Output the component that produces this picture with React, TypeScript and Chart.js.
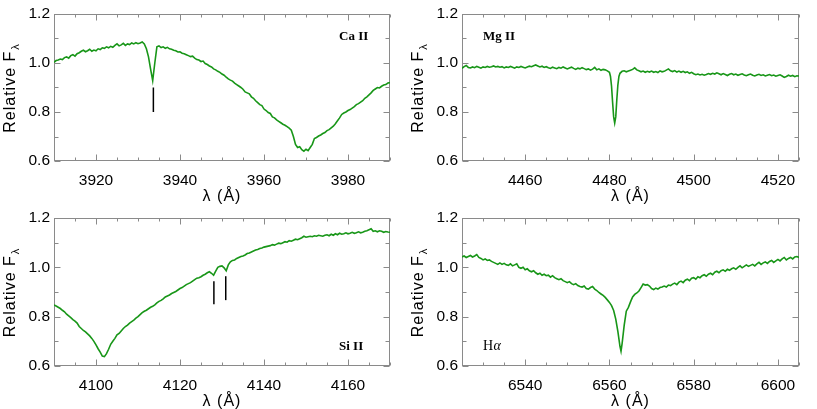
import React, { useEffect, useRef } from "react";
import { Chart, registerables } from "chart.js";
Chart.register(...registerables);

// ---------- Ca II panel ----------
const caWave = [
  3910,3910.5,3911,3911.5,3912,3912.5,3913,3913.5,3914,3914.5,3915,3915.5,3916,3916.5,3917,3917.5,3918,3918.5,3919,3919.5,
  3920,3920.5,3921,3921.5,3922,3922.5,3923,3923.5,3924,3924.5,3925,3925.5,3926,3926.5,3927,3927.5,3928,3928.5,3929,3929.5,
  3930,3930.5,3931,3931.5,3932,3932.5,3933,3933.5,3934,3934.5,3935,3935.5,3936,3936.5,3937,3937.5,3938,3938.5,3939,3939.5,
  3940,3940.5,3941,3941.5,3942,3942.5,3943,3943.5,3944,3944.5,3945,3945.5,3946,3946.5,3947,3947.5,3948,3948.5,3949,3949.5,
  3950,3950.5,3951,3951.5,3952,3952.5,3953,3953.5,3954,3954.5,3955,3955.5,3956,3956.5,3957,3957.5,3958,3958.5,3959,3959.5,
  3960,3960.5,3961,3961.5,3962,3962.5,3963,3963.5,3964,3964.5,3965,3965.5,3966,3966.5,3967,3967.5,3968,3968.5,3969,3969.5,
  3970,3970.5,3971,3971.5,3972,3972.5,3973,3973.5,3974,3974.5,3975,3975.5,3976,3976.5,3977,3977.5,3978,3978.5,3979,3979.5,
  3980,3980.5,3981,3981.5,3982,3982.5,3983,3983.5,3984,3984.5,3985,3985.5,3986,3986.5,3987,3987.5,3988,3988.5,3989,3989.5,
  3990,
];
const caFlux = [
  1.003,1.010,1.012,1.016,1.014,1.022,1.025,1.020,1.030,1.034,1.028,1.038,1.042,1.048,1.052,1.046,1.050,1.056,1.048,1.053,
  1.050,1.058,1.055,1.062,1.060,1.066,1.062,1.068,1.064,1.072,1.078,1.070,1.074,1.080,1.072,1.078,1.075,1.082,1.078,1.083,
  1.079,1.082,1.086,1.078,1.058,1.025,0.975,0.928,1.000,1.066,1.070,1.063,1.066,1.060,1.064,1.058,1.056,1.052,1.050,1.045,
  1.046,1.040,1.038,1.034,1.030,1.026,1.028,1.020,1.014,1.012,1.006,1.008,0.998,0.994,0.988,0.984,0.976,0.972,0.966,0.962,
  0.955,0.950,0.942,0.935,0.930,0.926,0.918,0.912,0.906,0.900,0.893,0.882,0.878,0.874,0.862,0.856,0.846,0.838,0.830,0.826,
  0.812,0.806,0.798,0.794,0.780,0.776,0.768,0.762,0.756,0.750,0.746,0.740,0.734,0.726,0.700,0.668,0.655,0.658,0.646,0.640,
  0.648,0.642,0.655,0.668,0.692,0.696,0.702,0.706,0.712,0.716,0.724,0.728,0.735,0.742,0.752,0.764,0.776,0.790,0.796,0.800,
  0.806,0.810,0.816,0.822,0.830,0.834,0.840,0.846,0.856,0.862,0.870,0.878,0.888,0.894,0.900,0.898,0.905,0.910,0.912,0.918,
  0.920,
];
const caTicks = [3920, 3940, 3960, 3980];
const caMarkWave = [3933.66];
const caMarkLow = [0.80];
const caMarkHigh = [0.90];

// ---------- Mg II panel ----------
const mgWave = [
  4445,4445.5,4446,4446.5,4447,4447.5,4448,4448.5,4449,4449.5,4450,4450.5,4451,4451.5,4452,4452.5,4453,4453.5,4454,4454.5,
  4455,4455.5,4456,4456.5,4457,4457.5,4458,4458.5,4459,4459.5,4460,4460.5,4461,4461.5,4462,4462.5,4463,4463.5,4464,4464.5,
  4465,4465.5,4466,4466.5,4467,4467.5,4468,4468.5,4469,4469.5,4470,4470.5,4471,4471.5,4472,4472.5,4473,4473.5,4474,4474.5,
  4475,4475.5,4476,4476.5,4477,4477.5,4478,4478.5,4479,4479.5,
  4480,
  4480.25,4480.5,4480.75,4481,4481.25,4481.5,4481.75,4482,4482.25,4482.5,
  4483,4483.5,4484,4484.5,4485,4485.5,4486,4486.5,4487,4487.5,4488,4488.5,4489,4489.5,4490,4490.5,4491,4491.5,4492,4492.5,
  4493,4493.5,4494,4494.5,4495,4495.5,4496,4496.5,4497,4497.5,4498,4498.5,4499,4499.5,4500,4500.5,4501,4501.5,4502,4502.5,
  4503,4503.5,4504,4504.5,4505,4505.5,4506,4506.5,4507,4507.5,4508,4508.5,4509,4509.5,4510,4510.5,4511,4511.5,4512,4512.5,
  4513,4513.5,4514,4514.5,4515,4515.5,4516,4516.5,4517,4517.5,4518,4518.5,4519,4519.5,4520,4520.5,4521,4521.5,4522,4522.5,
  4523,4523.5,4524,4524.5,4525,
];
const mgFlux = [
  0.978,0.985,0.990,0.982,0.980,0.984,0.981,0.986,0.983,0.979,0.984,0.982,0.986,0.983,0.985,0.988,0.984,0.986,0.983,0.985,
  0.980,0.984,0.982,0.986,0.983,0.979,0.984,0.982,0.986,0.983,0.980,0.984,0.987,0.985,0.989,0.992,0.988,0.984,0.987,0.982,
  0.985,0.981,0.978,0.983,0.980,0.977,0.982,0.979,0.984,0.980,0.976,0.980,0.983,0.978,0.974,0.979,0.976,0.981,0.977,0.973,
  0.976,0.971,0.975,0.982,0.972,0.976,0.970,0.974,0.972,0.968,
  0.962,
  0.945,0.905,0.840,0.780,0.755,0.780,0.850,0.910,0.945,0.958,
  0.966,0.968,0.964,0.967,0.970,0.974,0.980,0.972,0.968,0.964,0.967,0.962,0.966,0.963,0.967,0.962,0.965,0.961,0.968,0.964,
  0.966,0.971,0.976,0.968,0.965,0.969,0.963,0.967,0.962,0.966,0.961,0.964,0.958,0.962,0.956,0.952,0.955,0.951,0.954,0.950,
  0.953,0.957,0.954,0.958,0.955,0.960,0.956,0.952,0.957,0.953,0.949,0.954,0.957,0.952,0.955,0.950,0.953,0.956,0.951,0.948,
  0.952,0.955,0.950,0.947,0.951,0.954,0.949,0.952,0.947,0.950,0.953,0.948,0.951,0.946,0.949,0.952,0.947,0.941,0.945,0.950,
  0.946,0.949,0.944,0.948,0.947,
];
const mgTicks = [4460, 4480, 4500, 4520];

// ---------- Si II panel ----------
const siWave = [
  4090,4090.5,4091,4091.5,4092,4092.5,4093,4093.5,4094,4094.5,4095,4095.5,4096,4096.5,4097,4097.5,4098,4098.5,4099,4099.5,
  4100,4100.5,4101,4101.5,4102,4102.5,4103,4103.5,4104,4104.5,4105,4105.5,4106,4106.5,4107,4107.5,4108,4108.5,4109,4109.5,
  4110,4110.5,4111,4111.5,4112,4112.5,4113,4113.5,4114,4114.5,4115,4115.5,4116,4116.5,4117,4117.5,4118,4118.5,4119,4119.5,
  4120,4120.5,4121,4121.5,4122,4122.5,4123,4123.5,4124,4124.5,4125,4125.5,4126,4126.5,4127,4127.5,4128,4128.5,4129,4129.5,
  4130,4130.5,4131,4131.5,4132,4132.5,4133,4133.5,4134,4134.5,4135,4135.5,4136,4136.5,4137,4137.5,4138,4138.5,4139,4139.5,
  4140,4140.5,4141,4141.5,4142,4142.5,4143,4143.5,4144,4144.5,4145,4145.5,4146,4146.5,4147,4147.5,4148,4148.5,4149,4149.5,
  4150,4150.5,4151,4151.5,4152,4152.5,4153,4153.5,4154,4154.5,4155,4155.5,4156,4156.5,4157,4157.5,4158,4158.5,4159,4159.5,
  4160,4160.5,4161,4161.5,4162,4162.5,4163,4163.5,4164,4164.5,4165,4165.5,4166,4166.5,4167,4167.5,4168,4168.5,4169,4169.5,
  4170,
];
const siFlux = [
  0.848,0.843,0.838,0.833,0.826,0.820,0.810,0.803,0.796,0.788,0.782,0.774,0.760,0.752,0.744,0.738,0.730,0.722,0.712,0.700,
  0.686,0.670,0.656,0.640,0.638,0.650,0.668,0.688,0.700,0.712,0.726,0.732,0.742,0.752,0.760,0.766,0.774,0.780,0.786,0.794,
  0.800,0.808,0.816,0.822,0.826,0.832,0.838,0.842,0.848,0.856,0.862,0.866,0.872,0.880,0.884,0.888,0.894,0.898,0.902,0.908,
  0.914,0.918,0.924,0.930,0.934,0.938,0.944,0.950,0.956,0.958,0.962,0.968,0.972,0.978,0.982,0.976,0.968,0.985,1.000,1.004,
  1.006,0.998,0.986,1.010,1.022,1.028,1.030,1.036,1.040,1.044,1.046,1.050,1.056,1.058,1.062,1.066,1.070,1.072,1.076,1.078,
  1.082,1.084,1.086,1.088,1.092,1.090,1.094,1.098,1.096,1.100,1.104,1.102,1.108,1.106,1.110,1.114,1.112,1.116,1.120,1.126,
  1.122,1.124,1.126,1.124,1.128,1.126,1.130,1.128,1.126,1.130,1.132,1.128,1.134,1.130,1.136,1.132,1.138,1.134,1.136,1.140,
  1.136,1.138,1.142,1.138,1.140,1.144,1.140,1.142,1.146,1.148,1.152,1.156,1.146,1.148,1.144,1.148,1.146,1.142,1.145,1.143,
  1.142,
];
const siTicks = [4100, 4120, 4140, 4160];
const siMarkWave = [4128.07, 4130.89];
const siMarkLow = [0.85, 0.867];
const siMarkHigh = [0.944, 0.964];

// ---------- H-alpha panel ----------
const haWave = [
  6525,6525.5,6526,6526.5,6527,6527.5,6528,6528.5,6529,6529.5,6530,6530.5,6531,6531.5,6532,6532.5,6533,6533.5,6534,6534.5,
  6535,6535.5,6536,6536.5,6537,6537.5,6538,6538.5,6539,6539.5,6540,6540.5,6541,6541.5,6542,6542.5,6543,6543.5,6544,6544.5,
  6545,6545.5,6546,6546.5,6547,6547.5,6548,6548.5,6549,6549.5,6550,6550.5,6551,6551.5,6552,6552.5,6553,6553.5,6554,6554.5,
  6555,6555.5,6556,6556.5,6557,6557.5,6558,6558.5,6559,6559.5,6560,6560.5,6561,6561.5,6562,6562.5,
  6562.75,
  6563,6563.5,6564,6564.5,6565,6565.5,6566,6566.5,6567,6567.5,6568,6568.5,6569,6569.5,6570,6570.5,6571,6571.5,6572,6572.5,
  6573,6573.5,6574,6574.5,6575,6575.5,6576,6576.5,6577,6577.5,6578,6578.5,6579,6579.5,6580,6580.5,6581,6581.5,6582,6582.5,
  6583,6583.5,6584,6584.5,6585,6585.5,6586,6586.5,6587,6587.5,6588,6588.5,6589,6589.5,6590,6590.5,6591,6591.5,6592,6592.5,
  6593,6593.5,6594,6594.5,6595,6595.5,6596,6596.5,6597,6597.5,6598,6598.5,6599,6599.5,6600,6600.5,6601,6601.5,6602,6602.5,
  6603,6603.5,6604,6604.5,6605,
];
const haFlux = [
  1.042,1.046,1.040,1.044,1.048,1.042,1.046,1.052,1.040,1.036,1.030,1.034,1.028,1.030,1.024,1.020,1.016,1.012,1.018,1.012,
  1.016,1.010,1.008,1.014,1.006,1.010,1.014,1.000,0.996,1.000,0.990,0.994,0.986,0.982,0.986,0.978,0.972,0.976,0.968,0.972,
  0.966,0.968,0.960,0.966,0.958,0.954,0.950,0.954,0.946,0.942,0.938,0.942,0.934,0.930,0.934,0.926,0.922,0.920,0.924,0.914,
  0.912,0.918,0.922,0.912,0.906,0.898,0.892,0.886,0.878,0.868,0.858,0.845,0.825,0.790,0.740,0.680,
  0.660,
  0.690,0.765,0.822,0.838,0.860,0.880,0.890,0.896,0.904,0.918,0.932,0.928,0.930,0.924,0.914,0.910,0.916,0.912,0.918,0.920,
  0.924,0.920,0.928,0.926,0.932,0.936,0.930,0.940,0.944,0.938,0.948,0.952,0.946,0.956,0.958,0.952,0.962,0.958,0.966,0.970,
  0.964,0.972,0.976,0.970,0.980,0.984,0.978,0.986,0.990,0.984,0.992,0.988,0.994,0.998,0.992,1.000,1.006,0.998,1.004,1.010,
  1.004,1.008,1.012,1.006,1.014,1.020,1.012,1.018,1.022,1.016,1.024,1.028,1.020,1.026,1.032,1.026,1.034,1.040,1.030,1.036,
  1.040,1.034,1.042,1.044,1.040,
];
const haTicks = [6540, 6560, 6580, 6600];

// ---------- shared axis values ----------
const yMajorTicks = [0.6, 0.8, 1.0, 1.2];
const yMinorTicks = [0.7, 0.9, 1.1];
const xMinorStep = 5;

const GREEN = "rgb(24,150,24)";
const AXIS = "#8a8a8a";
const SANS = "'Liberation Sans', Arial, Helvetica, sans-serif";
const SERIF = "'Liberation Serif', 'Times New Roman', serif";

type PanelCfg = {
  wave: number[];
  flux: number[];
  xMin: number;
  xMax: number;
  xTicks: number[];
  label: string;
  corner: "tr" | "tl" | "br" | "bl";
  markWave: number[];
  markLow: number[];
  markHigh: number[];
};

const caPanel: PanelCfg = { wave: caWave, flux: caFlux, xMin: 3910, xMax: 3990, xTicks: caTicks, label: "Ca II", corner: "tr", markWave: caMarkWave, markLow: caMarkLow, markHigh: caMarkHigh };
const mgPanel: PanelCfg = { wave: mgWave, flux: mgFlux, xMin: 4445, xMax: 4525, xTicks: mgTicks, label: "Mg II", corner: "tl", markWave: [], markLow: [], markHigh: [] };
const siPanel: PanelCfg = { wave: siWave, flux: siFlux, xMin: 4090, xMax: 4170, xTicks: siTicks, label: "Si II", corner: "br", markWave: siMarkWave, markLow: siMarkLow, markHigh: siMarkHigh };
const haPanel: PanelCfg = { wave: haWave, flux: haFlux, xMin: 6525, xMax: 6605, xTicks: haTicks, label: "Hα", corner: "bl", markWave: [], markLow: [], markHigh: [] };

function makeDecor(cfg: PanelCfg) {
  return {
    id: "decor",
    beforeDatasetsDraw(chart: any) {
      const { ctx, chartArea: a, scales } = chart;
      const xs = scales.x;
      const ys = scales.y;
      ctx.save();
      ctx.strokeStyle = AXIS;
      ctx.lineWidth = 1;
      const L = Math.round(a.left) + 0.5;
      const R = Math.round(a.right) - 0.5;
      const T = Math.round(a.top) + 0.5;
      const B = Math.round(a.bottom) - 0.5;
      ctx.strokeRect(L, T, R - L, B - T);
      ctx.beginPath();
      const yTick = (v: number, len: number) => {
        const p = Math.round(ys.getPixelForValue(v)) + 0.5;
        ctx.moveTo(L, p); ctx.lineTo(L + len, p);
        ctx.moveTo(R, p); ctx.lineTo(R - len, p);
      };
      yMajorTicks.forEach((v) => yTick(v, 6));
      yMinorTicks.forEach((v) => yTick(v, 4));
      for (let v = Math.ceil(cfg.xMin / xMinorStep) * xMinorStep; v <= cfg.xMax; v += xMinorStep) {
        const len = cfg.xTicks.includes(v) ? 6 : 3;
        const p = Math.round(xs.getPixelForValue(v)) + 0.5;
        ctx.moveTo(p, B); ctx.lineTo(p, B - len);
        ctx.moveTo(p, T); ctx.lineTo(p, T + len);
      }
      ctx.stroke();
      ctx.restore();
    },
    afterDraw(chart: any) {
      const { ctx, chartArea: a } = chart;
      ctx.save();
      ctx.fillStyle = "#000";
      // y title
      ctx.save();
      ctx.translate(15, (a.top + a.bottom) / 2);
      ctx.rotate(-Math.PI / 2);
      ctx.textAlign = "left";
      ctx.textBaseline = "alphabetic";
      ctx.font = `16px ${SANS}`;
      (ctx as any).letterSpacing = "1px";
      const main = "Relative F";
      const w1 = ctx.measureText(main).width;
      ctx.font = `11px ${SANS}`;
      const w2 = ctx.measureText("λ").width;
      const x0 = -(w1 + w2 + 2) / 2;
      ctx.font = `16px ${SANS}`;
      ctx.fillText(main, x0, 0);
      ctx.font = `11px ${SANS}`;
      ctx.fillText("λ", x0 + w1 + 1, 4);
      ctx.restore();
      // x title
      ctx.save();
      ctx.font = `16px ${SANS}`;
      (ctx as any).letterSpacing = "1px";
      ctx.textAlign = "center";
      ctx.textBaseline = "middle";
      ctx.fillText("λ (Å)", (a.left + a.right) / 2, a.bottom + 36);
      ctx.restore();
      // panel label
      const lx = cfg.corner.endsWith("r") ? a.right - 51 : a.left + 21;
      const ly = cfg.corner.startsWith("t") ? a.top + 25.5 : a.bottom - 16.5;
      ctx.textAlign = "left";
      ctx.textBaseline = "alphabetic";
      if (cfg.label === "Hα") {
        ctx.font = `14px ${SERIF}`;
        ctx.fillText("H", lx, ly);
        const wH = ctx.measureText("H").width;
        ctx.font = `italic 14px ${SERIF}`;
        ctx.fillText("α", lx + wH + 0.5, ly);
      } else {
        ctx.font = `bold 13px ${SERIF}`;
        ctx.fillText(cfg.label, lx, ly);
      }
      ctx.restore();
    },
  };
}

function Panel({ cfg, left, top, width, height }: { cfg: PanelCfg; left: number; top: number; width: number; height: number }) {
  const ref = useRef<HTMLCanvasElement>(null);
  useEffect(() => {
    if (!ref.current) return;
    const datasets: any[] = [
      {
        data: cfg.wave.map((w, i) => ({ x: w, y: cfg.flux[i] })),
        borderColor: GREEN,
        borderWidth: 1.6,
        pointRadius: 0,
        fill: false,
        tension: 0,
      },
    ];
    cfg.markWave.forEach((w, i) => {
      datasets.push({
        data: [
          { x: w, y: cfg.markLow[i] },
          { x: w, y: cfg.markHigh[i] },
        ],
        borderColor: "#000",
        borderWidth: 1.5,
        pointRadius: 0,
        fill: false,
      });
    });
    const chart = new Chart(ref.current, {
      type: "line",
      data: { datasets },
      options: {
        animation: false,
        responsive: false,
        maintainAspectRatio: false,
        events: [],
        layout: { padding: { top: 14, right: 18, left: 0, bottom: 0 } },
        plugins: { legend: { display: false }, tooltip: { enabled: false } },
        scales: {
          x: {
            type: "linear",
            min: cfg.xMin,
            max: cfg.xMax,
            grid: { display: false, drawTicks: false },
            border: { display: false },
            ticks: {
              autoSkip: false,
              maxRotation: 0,
              padding: 10,
              color: "#000",
              font: { family: SANS, size: 15.5 },
              callback: (v: any) => String(v),
            },
            afterBuildTicks: (s: any) => {
              s.ticks = cfg.xTicks.map((v) => ({ value: v }));
            },
            afterFit: (s: any) => {
              s.height = 43;
            },
          },
          y: {
            type: "linear",
            min: 0.6,
            max: 1.2,
            grid: { display: false, drawTicks: false },
            border: { display: false },
            ticks: {
              padding: 4,
              color: "#000",
              font: { family: SANS, size: 15.5 },
              callback: (v: any) => Number(v).toFixed(1),
            },
            afterBuildTicks: (s: any) => {
              s.ticks = yMajorTicks.map((v) => ({ value: v }));
            },
            afterFit: (s: any) => {
              s.width = 54;
            },
          },
        },
      } as any,
      plugins: [makeDecor(cfg)],
    });
    return () => chart.destroy();
  }, [cfg]);
  return (
    <canvas
      ref={ref}
      width={width}
      height={height}
      style={{ position: "absolute", left, top, width, height }}
    />
  );
}

export default function App() {
  return (
    <div style={{ position: "absolute", left: 0, top: 0, width: 817, height: 409, background: "#fff", overflow: "hidden" }}>
      <Panel cfg={caPanel} left={0} top={0} width={408} height={204} />
      <Panel cfg={mgPanel} left={408} top={0} width={409} height={204} />
      <Panel cfg={siPanel} left={0} top={204} width={408} height={205} />
      <Panel cfg={haPanel} left={408} top={204} width={409} height={205} />
    </div>
  );
}
